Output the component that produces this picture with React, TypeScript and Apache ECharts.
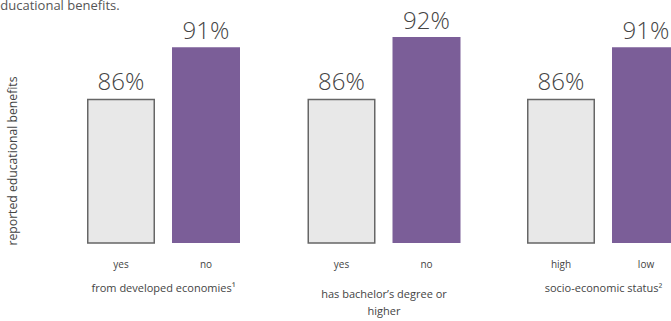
import React, { useEffect, useRef } from "react";
import * as echarts from "echarts";

const groupNames = ["from developed economies¹", "has bachelor’s degree or\nhigher", "socio-economic status²"];
const categoryPairs = [["yes", "no"], ["yes", "no"], ["high", "low"]];
const firstValues = [86, 86, 86];
const secondValues = [91, 92, 91];
const yAxisTitle = "reported educational benefits";
const topText = "educational benefits.";

const FONT = "Open Sans";

export default function App() {
  const ref = useRef<HTMLDivElement>(null);
  useEffect(() => {
    if (!ref.current) return;
    const chart = echarts.init(ref.current, null, { renderer: "svg" });
    const lefts = [78.5, 299, 518.5];
    const nameGaps = [36, 42, 36];
    const grids = lefts.map((l) => ({
      left: l,
      width: 170,
      top: 37,
      height: 206,
      containLabel: false,
      outerBoundsMode: "none",
    }));
    const xAxes = groupNames.map((n, i) => ({
      type: "category",
      gridIndex: i,
      data: categoryPairs[i],
      axisLine: { show: false },
      axisTick: { show: false },
      axisLabel: { margin: 16, fontSize: 10, color: "#444", fontFamily: FONT },
      name: n,
      nameLocation: "middle",
      nameGap: nameGaps[i],
      nameTextStyle: { fontSize: 11, color: "#444", fontFamily: FONT, lineHeight: 17 },
    }));
    const yAxes = groupNames.map((_, i) => ({
      type: "value",
      gridIndex: i,
      min: 72,
      max: 92,
      show: false,
      splitLine: { show: false },
    }));
    const series = groupNames.map((_, i) => ({
      type: "bar",
      xAxisIndex: i,
      yAxisIndex: i,
      barWidth: 68,
      data: [
        { value: firstValues[i], itemStyle: { color: "#e8e8e8", borderColor: "#666", borderWidth: 1.5 } },
        { value: secondValues[i], itemStyle: { color: "#7b5e98" } },
      ],
      label: {
        show: true,
        position: "top",
        distance: 6,
        formatter: "{c}%",
        fontSize: 24,
        fontWeight: 300,
        color: "#444",
        fontFamily: FONT,
      },
    }));
    chart.setOption({
      animation: false,
      grid: grids,
      xAxis: xAxes,
      yAxis: yAxes,
      series,
      graphic: [
        {
          type: "text",
          x: -7,
          y: -2,
          style: { text: topText, fill: "#555", fontSize: 13, fontFamily: FONT },
        },
        {
          type: "text",
          x: 12,
          y: 161,
          rotation: Math.PI / 2,
          style: {
            text: yAxisTitle,
            fill: "#444",
            fontSize: 12.2,
            fontFamily: FONT,
            align: "center",
            verticalAlign: "middle",
          },
        },
      ],
    });
    return () => chart.dispose();
  }, []);
  return (
    <div
      ref={ref}
      style={{ position: "fixed", left: 0, top: 0, width: 671, height: 321, background: "#fff" }}
    />
  );
}
